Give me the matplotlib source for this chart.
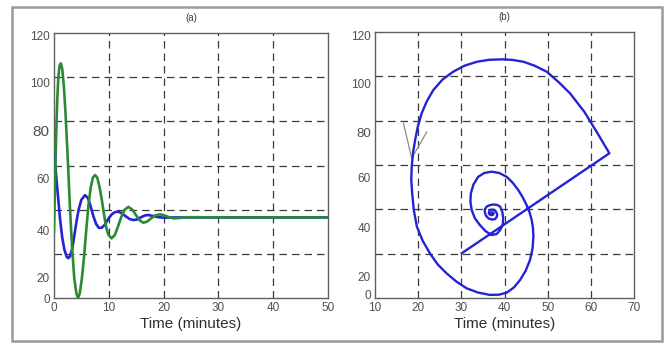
import matplotlib
matplotlib.use("Agg")
from matplotlib import pyplot as plt
from matplotlib.patches import Rectangle

# ---- data ----
# (a) time responses
t_green = [0, 0.2, 0.4, 0.6, 0.8, 1.0, 1.25, 1.5, 1.8, 2.1, 2.5, 2.9, 3.3, 3.7,
           4.1, 4.4, 4.7, 5.1, 5.5, 5.9, 6.3, 6.7, 7.1, 7.5, 7.9, 8.3, 8.7, 9.1,
           9.5, 9.9, 10.5, 11.1, 11.7, 12.3, 12.9, 13.6, 14.3, 15.0, 15.6, 16.3,
           17.0, 17.7, 18.5, 19.3, 20.1, 20.9, 21.8, 22.8, 24, 26, 30, 50]
y_green = [30, 52, 74, 90, 100, 105, 106.3, 104, 96, 84, 64, 42, 23, 9,
           2, 0, 2, 9, 19, 31, 42, 50, 54.5, 55.7, 54.5, 50.5, 45, 38.5,
           32.5, 28.8, 27, 28.5, 32.5, 36.8, 40, 41.3, 40, 37.5, 35.3, 34.1,
           34.6, 36, 37.4, 37.9, 37.5, 36.7, 36.1, 36.2, 36.6, 36.6, 36.5, 36.5]

t_blue = [0, 0.3, 0.7, 1.1, 1.5, 1.9, 2.3, 2.6, 2.9, 3.3, 3.7, 4.1, 4.5, 5.0,
          5.66, 6.2, 6.7, 7.2, 7.7, 8.2, 8.7, 9.3, 9.9, 10.5, 11.1, 11.7, 12.4,
          13.1, 13.8, 14.5, 15.2, 15.9, 16.6, 17.2, 18.0, 18.8, 20, 22, 50]
y_blue = [66, 58, 47, 36, 27.5, 22, 18.8, 18, 18.8, 22, 28, 34.5, 40, 44.5,
          46.6, 45.3, 41.5, 37, 33.5, 31.8, 31.8, 33.2, 35.8, 37.8, 38.9, 39.1, 38.4,
          37, 35.8, 35.3, 35.6, 36.6, 37.4, 37.6, 37.2, 36.7, 36.4, 36.5, 36.5]

# (b) phase trajectory
x_phase = [30.1, 64.3, 61.5, 58.5, 55.2, 52.5, 49.8, 47.0, 44.4, 42.0, 39.7,
           36.5, 33.6, 30.7, 28.1, 25.6, 23.5, 22.0, 20.8, 19.9, 19.3, 18.8,
           18.5, 18.4, 18.6, 19.0, 19.7, 21.0, 22.7, 24.5, 26.6, 28.8, 31.2,
           33.8, 36.6, 38.7, 40.5, 42.2, 43.6, 44.9, 45.9, 46.5, 46.7, 46.6,
           46.3, 45.8, 45.1, 44.2, 43.2, 41.9, 40.5, 38.8, 37.0, 35.3, 33.9,
           32.8, 32.2, 32.1, 32.4, 33.1, 34.3, 35.6, 37.0, 38.2, 39.0, 39.6,
           39.7, 39.5, 39.0, 38.3, 37.4, 36.6, 35.9, 35.5, 35.4, 35.7, 36.3,
           37.1, 37.8, 38.2, 38.3, 38.0, 37.4, 36.8, 36.4, 36.4, 36.8, 37.3,
           37.5, 37.2, 36.9]
y_phase = [20.2, 65.3, 74.5, 84.0, 92.3, 97.5, 102.1, 104.8, 106.6, 107.4, 107.7,
           107.5, 106.6, 104.8, 102.1, 98.5, 93.8, 88.8, 83.3, 77.3, 71.3, 65.5,
           59.2, 53.3, 47.4, 39.5, 32.2, 26.0, 20.2, 15.2, 11.1, 7.5, 4.4,
           2.5, 1.4, 1.5, 2.4, 4.8, 8.1, 12.3, 17.1, 22.3, 27.7, 31.5,
           35.2, 38.7, 42.0, 45.5, 48.7, 52.0, 54.7, 56.4, 57.0, 56.4, 54.7,
           51.2, 47.2, 43.4, 39.7, 36.1, 32.9, 30.2, 28.4, 28.9, 30.7, 33.2,
           36.0, 38.8, 41.2, 42.0, 42.2, 41.9, 41.3, 40.2, 38.9, 37.2, 35.9,
           35.4, 35.6, 36.6, 37.8, 39.1, 39.9, 39.8, 39.0, 38.0, 37.4, 37.5,
           38.2, 38.7, 38.3]
x_mark = [16.6, 18.5, 22.0]
y_mark = [78.8, 63.0, 75.0]

xticks_a = [0, 10, 20, 30, 40, 50]
xticks_b = [10, 20, 30, 40, 50, 60, 70]
yticklabels = ["0", "20", "40", "60", "80", "100", "120"]
# labels sit off the grid lines in the original picture
ytickpos_a = [0, 9.1, 30.8, 54.3, 76.1, 97.8, 119.1]
ytickpos_b = [1.4, 9.5, 31.6, 54.6, 74.9, 97.0, 118.6]
grid_y = [20, 40, 60, 80, 100]
grid_x_a = [10, 20, 30, 40]
grid_x_b = [20, 30, 40, 50, 60]

plt.rcParams['font.family'] = ['Liberation Sans', 'DejaVu Sans']
fig = plt.figure(figsize=(6.68, 3.49), dpi=100)
fig.patches.append(Rectangle((0.018, 0.023), 0.973, 0.957, transform=fig.transFigure,
                             fill=False, edgecolor='#9a9a9a', linewidth=1.8))

ax1 = fig.add_axes([0.0808, 0.1461, 0.410, 0.759])
ax2 = fig.add_axes([0.5614, 0.1461, 0.3877, 0.762])

gkw = dict(color='#3a3a3a', linestyle=(0, (6, 4)), linewidth=0.9, zorder=1)


def setup(ax, xlim, xticks, ytickpos, gx, title):
    ax.set_xlim(xlim)
    ax.set_ylim(0, 120)
    ax.set_xticks(xticks)
    ax.set_xticklabels([str(v) for v in xticks], fontsize=8.5, color='#505050')
    ax.set_yticks(ytickpos)
    ax.set_yticklabels(yticklabels, fontsize=8.5, color='#505050')
    ax.tick_params(length=0, pad=3)
    for v in grid_y:
        ax.axhline(v, **gkw)
    for v in gx:
        ax.axvline(v, **gkw)
    for s in ax.spines.values():
        s.set_color('#606060')
        s.set_linewidth(1.0)
    ax.set_title(title, fontsize=7, color='#404040', pad=9)
    ax.set_xlabel("Time (minutes)", fontsize=11, color='#303030', labelpad=2)


setup(ax1, (0, 50), xticks_a, ytickpos_a, grid_x_a, "(a)")
setup(ax2, (10, 70), xticks_b, ytickpos_b, grid_x_b, "(b)")
# the "80" label is bigger on the left panel
ax1.get_yticklabels()[4].set_fontsize(11)
ax2.get_yticklabels()[4].set_fontsize(9.5)

ax1.plot(t_blue, y_blue, color='#2424d2', linewidth=1.9, zorder=3)
ax1.plot(t_green, y_green, color='#2a8a34', linewidth=1.9, zorder=4)

ax2.plot(x_phase, y_phase, color='#2424d2', linewidth=1.7, zorder=3)
ax2.plot(x_mark, y_mark, color='#8a8a8a', linewidth=0.9, zorder=2)

plt.savefig("out.png", dpi=100)
